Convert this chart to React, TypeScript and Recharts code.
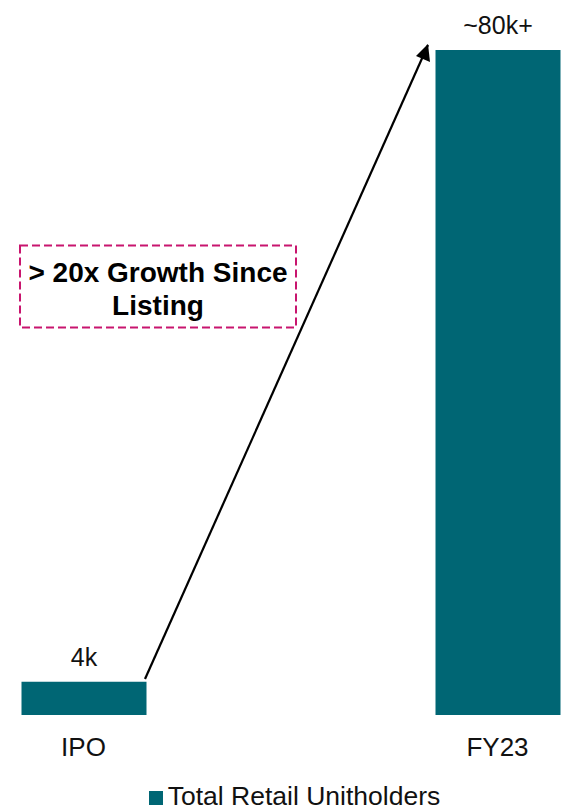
import { BarChart, Bar, XAxis, YAxis, LabelList, Legend } from 'recharts';

const categories = ['IPO', 'FY23'];
const unitholders = [4, 80];
const valueLabels = ['4k', '~80k+'];
const seriesName = 'Total Retail Unitholders';

const data = categories.map((name, i) => ({
  name,
  value: unitholders[i],
  label: valueLabels[i],
}));

const TEAL = '#006674';
const FONT = '"Liberation Sans", Arial, sans-serif';

function LegendContent() {
  return (
    <div style={{ display: 'flex', justifyContent: 'center', alignItems: 'center', fontFamily: FONT, fontSize: 26.5, color: '#111', lineHeight: '30px', height: 30, paddingLeft: 26 }}>
      <span style={{ width: 14, height: 14, background: TEAL, display: 'inline-block', marginRight: 5, marginTop: 4 }} />
      <span>{seriesName}</span>
    </div>
  );
}

export default function App() {
  return (
    <div style={{ position: 'absolute', left: 0, top: 0, width: 563, height: 812, background: '#fff', overflow: 'hidden' }}>
      <BarChart
        width={563}
        height={812}
        data={data}
        margin={{ top: 50, right: 0, bottom: 0, left: 0 }}
        barSize={125}
      >
        <XAxis
          dataKey="name"
          height={97}
          axisLine={false}
          tickLine={false}
          tickSize={0}
          tickMargin={23}
          padding={{ left: -123.5, right: -141.5 }}
          tick={{ fontSize: 26, fill: '#111', fontFamily: FONT }}
        />
        <YAxis hide domain={[0, 80]} />
        <Legend
          verticalAlign="middle"
          layout="horizontal"
          content={<LegendContent />}
          wrapperStyle={{ top: 781, left: 0, width: 563, height: 30 }}
        />
        <Bar dataKey="value" name={seriesName} fill={TEAL} isAnimationActive={false}>
          <LabelList
            dataKey="label"
            position="top"
            offset={16}
            style={{ fontSize: 25, fill: '#111', fontFamily: FONT }}
          />
        </Bar>
      </BarChart>
      <svg width={563} height={812} style={{ position: 'absolute', left: 0, top: 0, pointerEvents: 'none' }}>
        <line x1={145} y1={679} x2={428} y2={45} stroke="#000" strokeWidth={2.2} />
        <path d="M428,44 L430,62 L416,56 z" fill="#000" />
        <rect x={20} y={245.5} width={276} height={82} fill="none" stroke="#C8156E" strokeWidth={2} strokeDasharray="8 4" />
        <text x={158} y={282} textAnchor="middle" fontFamily={FONT} fontWeight="bold" fontSize={28} fill="#000">
          &gt; 20x Growth Since
        </text>
        <text x={158} y={315} textAnchor="middle" fontFamily={FONT} fontWeight="bold" fontSize={28} fill="#000">
          Listing
        </text>
      </svg>
    </div>
  );
}
